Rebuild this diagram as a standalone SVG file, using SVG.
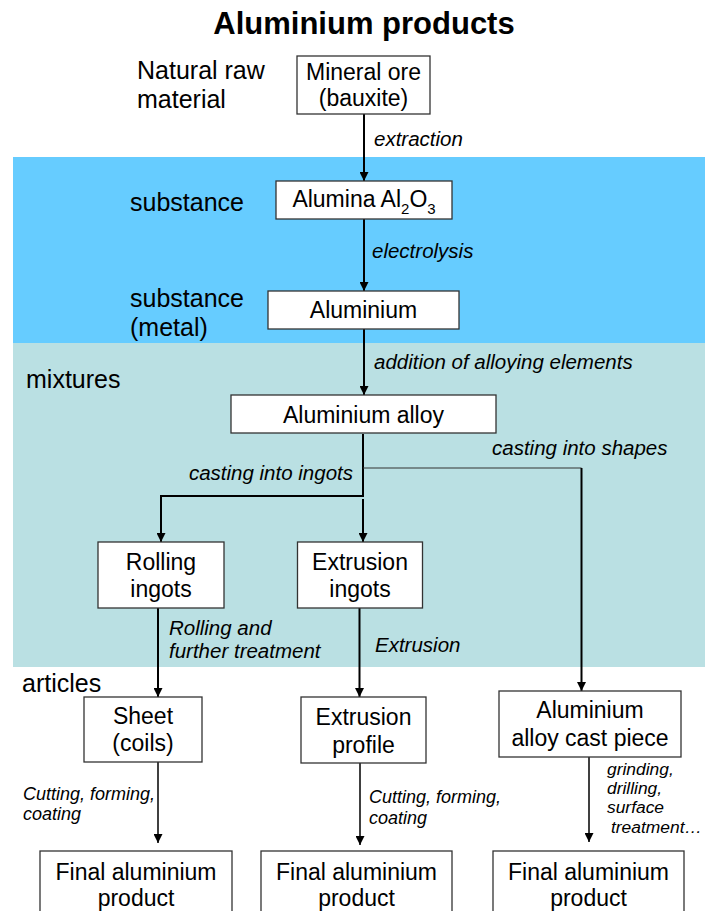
<svg xmlns="http://www.w3.org/2000/svg" width="705" height="911" viewBox="0 0 705 911">
<defs>
<style>
text{font-family:"Liberation Sans",Arial,sans-serif;fill:#000}
.title{font-size:31px;font-weight:bold;text-anchor:middle}
.side{font-size:25px}
.box{fill:#fff;stroke:#333;stroke-width:1.3}
.bt{font-size:23px;text-anchor:middle}
.lab{font-size:20.5px;font-style:italic}
.lab2{font-size:18px;font-style:italic}
.lab3{font-size:17.4px;font-style:italic}
.c{fill:none;stroke:#000;stroke-width:2}
.ct{fill:none;stroke:#000;stroke-width:1.5}
.thin{fill:none;stroke:#333;stroke-width:1.2}
</style>
<marker id="ah" viewBox="0 0 10 10" refX="10" refY="5" markerWidth="4.5" markerHeight="4.5" markerUnits="strokeWidth" orient="auto">
<path d="M0,0 L10,5 L0,10 z" fill="#000"/>
</marker>
<marker id="ah2" viewBox="0 0 10 10" refX="10" refY="5" markerWidth="6" markerHeight="6" markerUnits="strokeWidth" orient="auto">
<path d="M0,0 L10,5 L0,10 z" fill="#000"/>
</marker>
</defs>
<rect x="0" y="0" width="705" height="911" fill="#fff"/>
<g id="bands">
<rect x="13" y="157" width="692" height="186" fill="#66CCFF"/>
<rect x="13" y="343" width="692" height="324" fill="#BAE0E3"/>
</g>
<text class="title" x="364" y="34">Aluminium products</text>
<g id="side-labels">
<text class="side" x="137" y="79">Natural raw</text>
<text class="side" x="137" y="108">material</text>
<text class="side" x="130" y="211">substance</text>
<text class="side" x="130" y="307">substance</text>
<text class="side" x="130" y="336">(metal)</text>
<text class="side" x="26" y="388">mixtures</text>
<text class="side" x="22" y="692">articles</text>
</g>
<g id="connectors">
<line class="c" x1="364" y1="114" x2="364" y2="181" marker-end="url(#ah)"/>
<line class="c" x1="364" y1="219" x2="364" y2="291" marker-end="url(#ah)"/>
<line class="c" x1="364" y1="329" x2="364" y2="395" marker-end="url(#ah)"/>
<polyline class="c" points="363,434 363,496 161,496 161,542" marker-end="url(#ah)"/>
<line class="c" x1="363" y1="499" x2="363" y2="542" marker-end="url(#ah)"/>
<polyline class="thin" points="363,468 581.5,468"/>
<line class="c" x1="581.5" y1="468" x2="581.5" y2="691" marker-end="url(#ah)"/>
<line class="c" x1="158" y1="608" x2="158" y2="697" marker-end="url(#ah)"/>
<line class="c" x1="359.5" y1="608" x2="359.5" y2="697" marker-end="url(#ah)"/>
<line class="ct" x1="158" y1="762" x2="158" y2="843" marker-end="url(#ah2)"/>
<line class="ct" x1="360" y1="763" x2="360" y2="845" marker-end="url(#ah2)"/>
<line class="ct" x1="589" y1="757" x2="589" y2="842" marker-end="url(#ah2)"/>
</g>
<g id="connector-labels">
<text class="lab" x="374" y="146">extraction</text>
<text class="lab" x="372" y="258">electrolysis</text>
<text class="lab" x="374" y="369">addition of alloying elements</text>
<text class="lab" x="353" y="480" text-anchor="end">casting into ingots</text>
<text class="lab" x="492" y="455">casting into shapes</text>
<text class="lab" x="169" y="635">Rolling and</text>
<text class="lab" x="169" y="658">further treatment</text>
<text class="lab" x="375" y="652">Extrusion</text>
<text class="lab2" x="23" y="800">Cutting, forming,</text>
<text class="lab2" x="23" y="820">coating</text>
<text class="lab2" x="369" y="803">Cutting, forming,</text>
<text class="lab2" x="369" y="824">coating</text>
<text class="lab3" x="607" y="775">grinding,</text>
<text class="lab3" x="607" y="794">drilling,</text>
<text class="lab3" x="607" y="813">surface</text>
<text class="lab3" x="611" y="833">treatment…</text>
</g>
<g id="node-ore">
<rect class="box" x="297" y="56" width="133" height="58"/>
<text class="bt" x="363.5" y="80">Mineral ore</text>
<text class="bt" x="363.5" y="106">(bauxite)</text>
</g>
<g id="node-alumina">
<rect class="box" x="276" y="181" width="176" height="38"/>
<text class="bt" x="364" y="207">Alumina Al<tspan font-size="15" dy="7">2</tspan><tspan dy="-7">O</tspan><tspan font-size="15" dy="7">3</tspan></text>
</g>
<g id="node-aluminium">
<rect class="box" x="268" y="291" width="191" height="38"/>
<text class="bt" x="363.5" y="318">Aluminium</text>
</g>
<g id="node-alloy">
<rect class="box" x="231" y="395" width="265" height="38"/>
<text class="bt" x="363.5" y="423">Aluminium alloy</text>
</g>
<g id="node-rolling">
<rect class="box" x="98" y="542" width="126" height="66"/>
<text class="bt" x="161" y="570">Rolling</text>
<text class="bt" x="161" y="597">ingots</text>
</g>
<g id="node-extrusion-ingots">
<rect class="box" x="297.5" y="542" width="125" height="66"/>
<text class="bt" x="360" y="570">Extrusion</text>
<text class="bt" x="360" y="597">ingots</text>
</g>
<g id="node-sheet">
<rect class="box" x="84" y="697" width="118" height="65"/>
<text class="bt" x="143" y="724">Sheet</text>
<text class="bt" x="143" y="751">(coils)</text>
</g>
<g id="node-profile">
<rect class="box" x="301" y="697" width="125" height="66"/>
<text class="bt" x="363.5" y="725">Extrusion</text>
<text class="bt" x="363.5" y="753">profile</text>
</g>
<g id="node-cast">
<rect class="box" x="499" y="691" width="182" height="66"/>
<text class="bt" x="590" y="718">Aluminium</text>
<text class="bt" x="590" y="746">alloy cast piece</text>
</g>
<g id="node-final1">
<rect class="box" x="40" y="851" width="192" height="70"/>
<text class="bt" x="136" y="880">Final aluminium</text>
<text class="bt" x="136" y="906">product</text>
</g>
<g id="node-final2">
<rect class="box" x="261" y="851" width="191" height="70"/>
<text class="bt" x="356.5" y="880">Final aluminium</text>
<text class="bt" x="356.5" y="906">product</text>
</g>
<g id="node-final3">
<rect class="box" x="493" y="851" width="191" height="70"/>
<text class="bt" x="588.5" y="880">Final aluminium</text>
<text class="bt" x="588.5" y="906">product</text>
</g>
</svg>
